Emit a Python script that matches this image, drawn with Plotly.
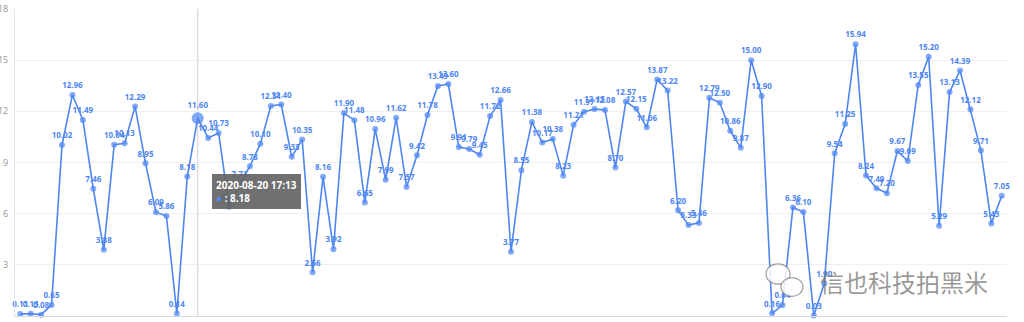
import plotly.graph_objects as go
import pandas as pd

values = [0.11, 0.13, 0.08, 0.65, 10.02, 12.96, 11.49, 7.46, 3.88, 10.04,
          10.13, 12.29, 8.95, 6.09, 5.86, 0.14, 8.18, 11.60, 10.44, 10.73,
          6.41, 7.73, 8.78, 10.10, 12.31, 12.40, 9.33, 10.35, 2.56, 8.16,
          3.92, 11.90, 11.48, 6.65, 10.96, 7.99, 11.62, 7.57, 9.42, 11.78,
          13.49, 13.60, 9.91, 9.79, 9.45, 11.72, 12.66, 3.77, 8.55, 11.38,
          10.17, 10.38, 8.23, 11.21, 11.97, 12.13, 12.08, 8.70, 12.57, 12.15,
          11.06, 13.87, 13.22, 6.20, 5.33, 5.46, 12.79, 12.50, 10.86, 9.87,
          15.00, 12.90, 0.16, 0.64, 6.36, 6.10, 0.03, 1.90, 9.54, 11.25,
          15.94, 8.24, 7.49, 7.20, 9.67, 9.09, 13.55, 15.20, 5.29, 13.13,
          14.39, 12.12, 9.71, 5.43, 7.05]

times = pd.date_range(start="2020-08-20 01:13", periods=len(values), freq="1h")
categories = [t.strftime("%Y-%m-%d %H:%M") for t in times]

y_ticks = [0, 3, 6, 9, 12, 15, 18]
highlight_idx = 17
tooltip_time = "2020-08-20 17:13"
tooltip_value = "8.18"
watermark = "信也科技拍黑米"

BLUE = "#4E86F2"

sizes = [6] * len(values)
sizes[highlight_idx] = 12

fig = go.Figure()
fig.add_trace(go.Scatter(
    x=categories, y=values,
    mode="lines+markers+text",
    line=dict(color=BLUE, width=1.6),
    marker=dict(color=BLUE, size=sizes, line=dict(width=0)),
    texttemplate="%{y:.2f}",
    textposition="top center",
    textfont=dict(family="Noto Sans", size=8, color=BLUE, weight="bold"),
    cliponaxis=False,
    showlegend=False,
))

W, H = 1024, 322
L, R, T, B = 15, 17, 9, 6

def px(x):
    return (x - L) / (W - L - R)

def py(y):
    return (H - B - y) / (H - T - B)

fig.add_shape(type="line", xref="x", yref="paper",
              x0=categories[highlight_idx], x1=categories[highlight_idx], y0=0, y1=1,
              line=dict(color="#d0d0d0", width=1), layer="below")

fig.add_annotation(xref="paper", yref="paper", x=px(212), y=py(174),
                   xanchor="left", yanchor="top", showarrow=False, align="left",
                   text=(f"<b>{tooltip_time}</b><br>"
                         f"<span style='color:{BLUE}'>●</span> <b>: {tooltip_value}</b>"),
                   font=dict(family="Noto Sans", size=10, color="white"),
                   bgcolor="rgba(100,100,100,0.92)", borderpad=4, borderwidth=0)

# watermark
fig.add_annotation(xref="paper", yref="paper", x=px(904), y=py(281),
                   xanchor="center", yanchor="middle", showarrow=False,
                   text=watermark,
                   font=dict(family="Noto Sans CJK SC", size=24, color="rgba(120,120,120,0.75)"))
for cx, cy, r in [(778, 274, 12), (792, 287, 11)]:
    fig.add_shape(type="circle", xref="paper", yref="paper",
                  x0=px(cx - r), x1=px(cx + r), y0=py(cy + r * 0.85), y1=py(cy - r * 0.85),
                  line=dict(color="rgba(120,120,120,0.7)", width=1.2),
                  fillcolor="rgba(255,255,255,0.85)")

fig.update_layout(
    width=W, height=H,
    margin=dict(l=L, r=R, t=T, b=B),
    paper_bgcolor="white", plot_bgcolor="white",
    xaxis=dict(type="category", tickmode="linear", tick0=0, dtick=2,
               tickangle=-45, automargin=False, showgrid=False,
               showline=True, linecolor="#d9d9d9", linewidth=1,
               ticks="", tickfont=dict(family="Noto Sans", size=9, color="#999"),
               range=[-0.5, len(values) - 0.5]),
    yaxis=dict(range=[0, 18], tickvals=y_ticks, automargin=False,
               showgrid=True, gridcolor="#efefef", gridwidth=1,
               zeroline=False, showline=True, linecolor="#e6e6e6",
               ticks="", ticklabelstandoff=4,
               tickfont=dict(family="Noto Sans", size=9, color="#999")),
)

fig.write_html("out.html")
